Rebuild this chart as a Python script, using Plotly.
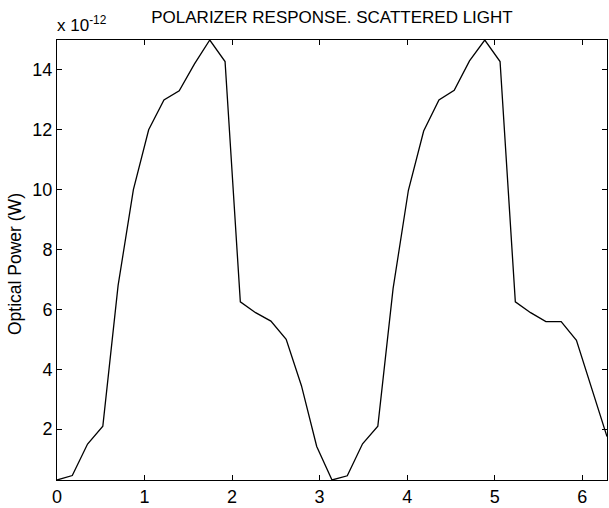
import numpy as np
import plotly.graph_objects as go

# angle in degrees (10 degree steps), converted to radians for the x axis
angle_deg = list(range(0, 361, 10))
# optical power in units of 1e-12 W
power = [0.30, 0.45, 1.50, 2.10, 6.80, 10.00, 12.00, 13.00, 13.30, 14.20,
         15.00, 14.28, 6.25, 5.89, 5.61, 5.00, 3.45, 1.42, 0.30,
         0.44, 1.51, 2.10, 6.70, 9.98, 11.96, 13.00, 13.32, 14.30,
         15.00, 14.28, 6.25, 5.89, 5.59, 5.59, 4.97, 3.40, 1.75]
x_ticks = [0, 1, 2, 3, 4, 5, 6]
y_ticks = [2, 4, 6, 8, 10, 12, 14]

x = np.deg2rad(angle_deg)

FONT = "Arial, 'Liberation Sans', Helvetica, sans-serif"

fig = go.Figure()
fig.add_trace(go.Scatter(x=x, y=power, mode="lines",
                         line=dict(color="black", width=1.3),
                         showlegend=False, hoverinfo="skip"))

axis_common = dict(showline=True, linecolor="black", linewidth=1,
                   mirror="allticks", ticks="inside", ticklen=5,
                   tickcolor="black", showgrid=False, zeroline=False,
                   tickfont=dict(family=FONT, size=18, color="black"))

fig.update_xaxes(range=[0, 2 * np.pi], tickvals=x_ticks,
                 ticktext=[str(v) for v in x_ticks], **axis_common)
fig.update_yaxes(range=[0.3, 15.0], tickvals=y_ticks,
                 ticktext=[str(v) for v in y_ticks], **axis_common)

fig.update_layout(
    width=609, height=508,
    margin=dict(l=57, r=1, t=40, b=25),
    paper_bgcolor="white", plot_bgcolor="white",
    font=dict(family=FONT, color="black"),
    title=dict(text="POLARIZER RESPONSE. SCATTERED LIGHT",
               font=dict(family=FONT, size=17, color="black"),
               x=0.5, xref="paper", xanchor="center",
               y=1 - 17 / 508, yref="container", yanchor="middle"),
    annotations=[
        dict(text="Optical Power (W)", textangle=-90,
             xref="paper", yref="paper", x=0, y=0.5,
             xanchor="center", yanchor="middle", xshift=-42, yshift=-4,
             showarrow=False, font=dict(family=FONT, size=17.5, color="black")),
        dict(text="x 10<sup>-12</sup>",
             xref="paper", yref="paper", x=0, y=1,
             xanchor="left", yanchor="bottom", xshift=-2, yshift=3,
             showarrow=False, font=dict(family=FONT, size=17, color="black")),
    ],
)

fig.write_html(
    "out.html",
    config={"displayModeBar": False},
    post_script=("document.body.style.margin='0px';"
                 "document.body.style.overflow='hidden';"
                 "document.documentElement.style.overflow='hidden';"),
)
